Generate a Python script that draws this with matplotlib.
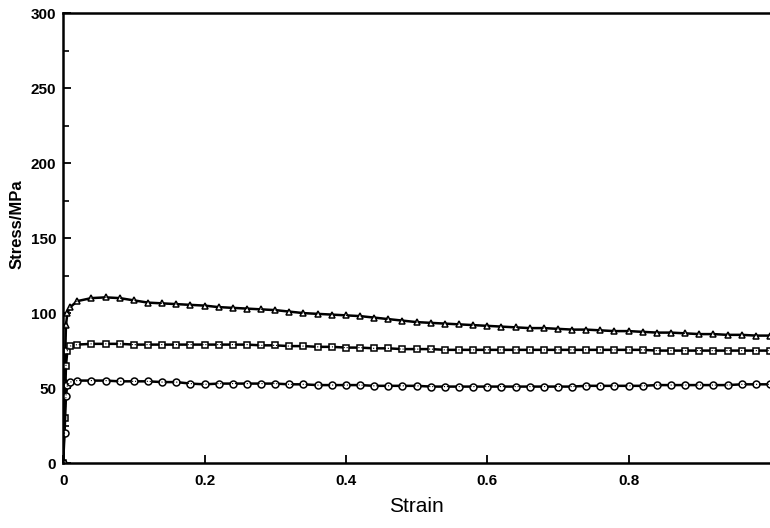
import numpy as np
import matplotlib.pyplot as plt
from matplotlib.ticker import MultipleLocator

# strain grid
strain = [0, 0.002, 0.004, 0.006, 0.01,
          0.02, 0.04, 0.06, 0.08, 0.10, 0.12, 0.14, 0.16, 0.18, 0.20,
          0.22, 0.24, 0.26, 0.28, 0.30, 0.32, 0.34, 0.36, 0.38, 0.40,
          0.42, 0.44, 0.46, 0.48, 0.50, 0.52, 0.54, 0.56, 0.58, 0.60,
          0.62, 0.64, 0.66, 0.68, 0.70, 0.72, 0.74, 0.76, 0.78, 0.80,
          0.82, 0.84, 0.86, 0.88, 0.90, 0.92, 0.94, 0.96, 0.98, 1.00]

stress_tri = [0, 55, 92, 100, 104,
              108, 110, 110.5, 110, 108.5, 107, 106.5, 106, 105.5, 105,
              104, 103.5, 103, 102.5, 102, 101, 100, 99.5, 99, 98.5,
              98, 97, 96, 95, 94, 93.5, 93, 92.5, 92, 91.5,
              91, 90.5, 90, 90, 89.5, 89, 89, 88.5, 88, 88,
              87.5, 87, 87, 86.5, 86, 86, 85.5, 85.5, 85, 85]

stress_sq = [0, 30, 65, 75, 78,
             79, 79.5, 79.5, 79.5, 79, 79, 79, 79, 79, 79,
             79, 79, 79, 78.5, 78.5, 78, 78, 77.5, 77.5, 77,
             77, 76.5, 76.5, 76, 76, 76, 75.5, 75.5, 75.5, 75.5,
             75.5, 75.5, 75.5, 75.5, 75.5, 75.5, 75.5, 75.5, 75.5, 75.5,
             75.5, 75, 75, 75, 75, 75, 75, 75, 75, 75]

stress_circ = [0, 20, 45, 52, 54,
               55, 55, 55, 54.5, 54.5, 54.5, 54, 54, 53, 52.5,
               53, 53, 53, 53, 53, 52.5, 52.5, 52, 52, 52,
               52, 51.5, 51.5, 51.5, 51.5, 51, 51, 51, 51, 51,
               51, 51, 51, 51, 51, 51, 51.5, 51.5, 51.5, 51.5,
               51.5, 52, 52, 52, 52, 52, 52, 52.5, 52.5, 52.5]

xticks = [0, 0.2, 0.4, 0.6, 0.8]
xticklabels = ['0', '0.2', '0.4', '0.6', '0.8']
yticks = [0, 50, 100, 150, 200, 250, 300]

plt.rcParams['font.family'] = ['Liberation Sans', 'DejaVu Sans']

fig = plt.figure(figsize=(7.7, 5.28), dpi=100)
ax = fig.add_axes([0.082, 0.123, 0.918, 0.852])

for vals, mk in [(stress_tri, '^'), (stress_sq, 's'), (stress_circ, 'o')]:
    ax.plot(strain, vals, color='black', linewidth=1.8, marker=mk, markersize=5,
            markerfacecolor='white', markeredgecolor='black', markeredgewidth=1.1)
    ax.plot(strain, vals, color='black', linewidth=0.8, linestyle=':')

ax.set_xlim(0, 1.0)
ax.set_ylim(0, 300)
ax.set_xticks(xticks)
ax.set_xticklabels(xticklabels)
ax.set_yticks(yticks)
ax.yaxis.set_minor_locator(MultipleLocator(25))

ax.spines['right'].set_visible(False)
for s in ['left', 'top', 'bottom']:
    ax.spines[s].set_linewidth(1.8)

ax.tick_params(axis='both', which='major', direction='in', length=6, width=1.3,
               labelsize=11, pad=5)
ax.tick_params(axis='x', which='major', pad=8)
ax.tick_params(axis='y', which='minor', direction='in', length=4, width=1.2)
ax.tick_params(top=False, right=False)
for lab in ax.get_xticklabels() + ax.get_yticklabels():
    lab.set_fontweight('bold')

ax.set_xlabel('Strain', fontsize=15, labelpad=6)
ax.set_ylabel('Stress/MPa', fontsize=12, fontweight='bold', labelpad=4)
ax.yaxis.set_label_coords(-0.055, 0.53)

fig.savefig('out.png', dpi=100)
